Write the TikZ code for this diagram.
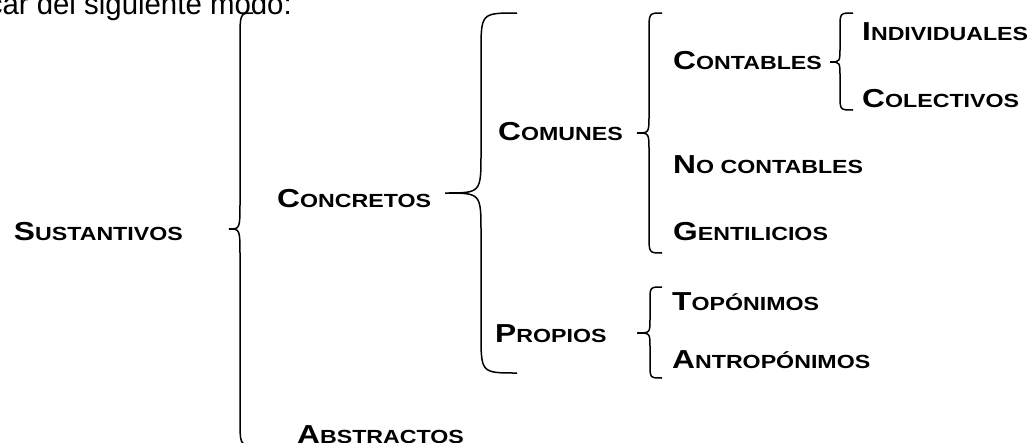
\documentclass[tikz,border=0pt]{standalone}
\usepackage{fontspec}
\setmainfont{Liberation Sans}
\usepackage{graphicx}
\newcommand{\versal}[2]{\scalebox{1.22}[1]{{\fontsize{26}{30}\selectfont #1}{\fontsize{19}{22}\selectfont #2}}}
\newcommand{\catnode}{\node[anchor=base west,inner sep=0pt,font=\bfseries]}
% brace: tip x, line x, end x, top y, middle y, bottom y, curl height
\newcommand{\wbrace}[7]{\draw[line width=1.5pt] (#3,#4) .. controls (#2,#4) .. (#2,#4+#7) -- (#2,#5-#7) .. controls (#2,#5) .. (#1,#5) .. controls (#2,#5) .. (#2,#5+#7) -- (#2,#6-#7) .. controls (#2,#6) .. (#3,#6);}

\begin{document}
\begin{tikzpicture}[x=1pt,y=-1pt]
        \useasboundingbox (0,0) rectangle (1034,442);
        \clip (0,0) rectangle (1034,442);
        \node[anchor=base east,inner sep=0pt] (intro) at (292,14.5) {\scalebox{0.98}[1]{\fontsize{30}{34}\selectfont car del siguiente modo:}}; %
        \node[anchor=base east,inner sep=0pt,font=\bfseries] (sust) at (183,240) {\versal{S}{USTANTIVOS}}; %
        \catnode (concr) at (277,207) {\versal{C}{ONCRETOS}};
        \catnode (abstr) at (297,443.5) {\versal{A}{BSTRACTOS}};
        \catnode (comun) at (498,140) {\versal{C}{OMUNES}};
        \catnode (propi) at (495,342) {\versal{P}{ROPIOS}};
        \catnode (contab) at (673,69) {\versal{C}{ONTABLES}};
        \catnode (nocont) at (673,173) {\versal{N}{O CONTABLES}};
        \catnode (gentil) at (673,240) {\versal{G}{ENTILICIOS}};
        \catnode (indiv) at (862,40) {\versal{I}{NDIVIDUALES}};
        \catnode (colect) at (862,107) {\versal{C}{OLECTIVOS}};
        \catnode (topon) at (672,310) {\versal{T}{OPÓNIMOS}};
        \catnode (antrop) at (672,368) {\versal{A}{NTROPÓNIMOS}};
        \wbrace{229}{240}{253}{13}{229}{445}{28}
        \wbrace{445}{481}{517}{13}{193}{373}{40}
        \wbrace{637}{649}{662}{13}{133}{253}{18}
        \wbrace{830}{840}{853}{13}{62}{110}{15}
        \wbrace{637}{650}{662}{287}{333}{378}{14}
      \end{tikzpicture}
\end{document}
